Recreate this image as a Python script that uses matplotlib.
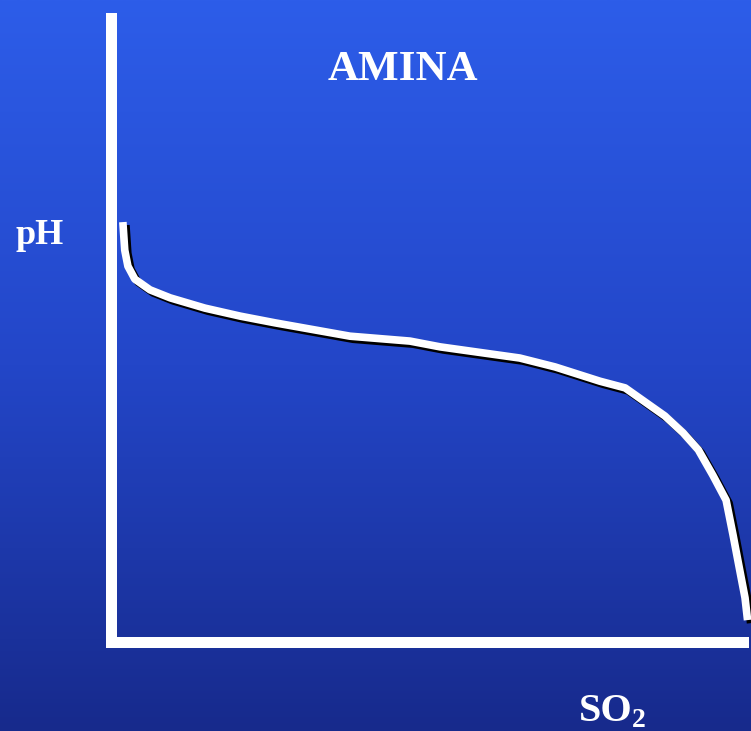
import numpy as np
import matplotlib
matplotlib.use('Agg')
import matplotlib.pyplot as plt
import matplotlib.patheffects as pe
from matplotlib.colors import LinearSegmentedColormap

# titration curve (arbitrary SO2 units, pH)
so2 = [0.18, 0.21, 0.26, 0.37, 0.61, 0.93, 1.48, 2.04, 2.59, 3.78, 4.73, 5.21,
       6.47, 7.03, 7.74, 8.14, 8.46, 8.77, 9.06, 9.30, 9.53, 9.74, 9.85, 9.94,
       10.04, 10.08]
ph = [9.41, 8.78, 8.42, 8.13, 7.89, 7.71, 7.48, 7.30, 7.15, 6.85, 6.74, 6.61,
      6.36, 6.16, 5.84, 5.69, 5.37, 5.06, 4.68, 4.30, 3.73, 3.17, 2.39, 1.72,
      0.98, 0.48]

title = 'AMINA'
ylabel = 'pH'

plt.rcParams['font.family'] = 'Liberation Serif'

W, H = 751, 731
fig = plt.figure(figsize=(W / 100, H / 100), dpi=100)

# gradient background
bg = fig.add_axes([0, 0, 1, 1], zorder=0)
cmap = LinearSegmentedColormap.from_list('bg', ['#2d5de9', '#2346c8', '#172a8c'])
bg.imshow(np.linspace(0, 1, 256).reshape(-1, 1), aspect='auto', cmap=cmap,
          extent=[0, 1, 0, 1], origin='upper')
bg.axis('off')

ax = fig.add_axes([111.5 / W, (H - 641.5) / H, (742.5 - 111.5) / W, (641.5 - 17.5) / H],
                  zorder=1)
ax.patch.set_visible(False)
ax.set_xlim(0, 10)
ax.set_ylim(0, 14)
for s in ['top', 'right']:
    ax.spines[s].set_visible(False)
for s in ['left', 'bottom']:
    ax.spines[s].set_color('white')
    ax.spines[s].set_linewidth(11 * 0.72)
    ax.spines[s].set_capstyle('projecting')
ax.set_xticks([])
ax.set_yticks([])

ax.plot(so2, ph, color='white', lw=5.5, solid_capstyle='butt', solid_joinstyle='round',
        clip_on=False,
        path_effects=[pe.SimpleLineShadow(offset=(2.2, -2.2), shadow_color='black', alpha=1),
                      pe.Normal()])

fig.text(403 / W, 1 - 70 / H, title, color='white', fontsize=31, fontweight='bold',
         ha='center', va='center')
fig.text(40 / W, 1 - 235 / H, ylabel, color='white', fontsize=26, fontweight='bold',
         ha='center', va='center')
# SO2 label with a lowered subscript
fig.text(579 / W, 1 - 721 / H, 'SO', color='white', fontsize=29, fontweight='bold',
         ha='left', va='baseline')
fig.text(632 / W, 1 - 727 / H, '2', color='white', fontsize=20, fontweight='bold',
         ha='left', va='baseline')

fig.savefig('out.png', dpi=100)
